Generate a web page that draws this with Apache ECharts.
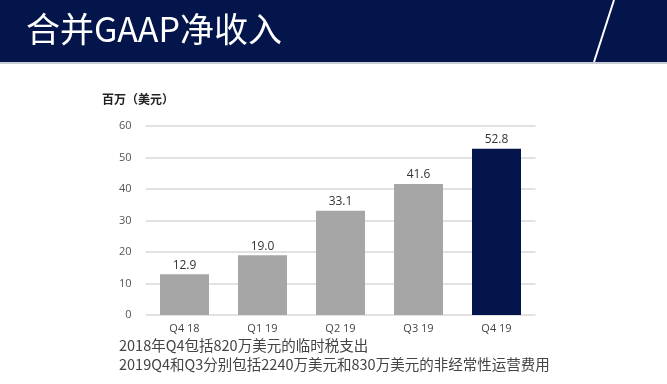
<!DOCTYPE html>
<html><head><meta charset="utf-8">
<script src="https://cdn.jsdelivr.net/npm/echarts@6/dist/echarts.min.js"></script>
<style>html,body{margin:0;padding:0;background:#fff;}#c{width:667px;height:384px;}</style>
</head><body><div id="c"></div>
<script>
const categories = ['Q4 18', 'Q1 19', 'Q2 19', 'Q3 19', 'Q4 19'];
const netIncome = [12.9, 19.0, 33.1, 41.6, 52.8];
const yTicks = [0, 10, 20, 30, 40, 50, 60];
const title = '合并GAAP净收入';
const unitLabel = '百万（美元）';
const notes = ['2018年Q4包括820万美元的临时税支出', '2019Q4和Q3分别包括2240万美元和830万美元的非经常性运营费用'];

const navy = '#03154a';
const chart = echarts.init(document.getElementById('c'));
chart.setOption({
  animation: false,
  graphic: [
    {type:'rect', left:0, top:0, shape:{width:667, height:62}, style:{fill:navy}},
    {type:'rect', left:0, top:62, shape:{width:667, height:2}, style:{fill:'#c8ccd6'}},
    {type:'line', shape:{x1:614, y1:0, x2:594, y2:62}, style:{stroke:'#fff', lineWidth:2}},
    {type:'text', left:26, top:12, style:{text:title, fill:'#fff', font:'34px "Noto Sans CJK SC", sans-serif'}},
    {type:'text', left:102, top:93, style:{text:unitLabel, fill:'#222', font:'bold 12px "Noto Sans CJK SC", sans-serif'}},
    {type:'text', left:119, top:338, style:{text:notes[0], fill:'#444', font:'14.5px "Noto Sans CJK SC", sans-serif'}},
    {type:'text', left:119, top:357, style:{text:notes[1], fill:'#444', font:'14.5px "Noto Sans CJK SC", sans-serif'}}
  ],
  grid: {left:145.5, right:131.5, top:126, bottom:69},
  xAxis: {
    type:'category', data:categories,
    axisLine:{show:false}, axisTick:{show:false},
    axisLabel:{color:'#444', fontSize:11, margin:8, fontFamily:'"Open Sans", sans-serif'}
  },
  yAxis: {
    type:'value', min:0, max:60, interval:10,
    axisLine:{show:false}, axisTick:{show:false},
    axisLabel:{color:'#555', fontSize:11, margin:14, fontFamily:'"Open Sans", sans-serif',
      formatter: v => yTicks.includes(v) ? String(v) : ''},
    splitLine:{lineStyle:{color:'#d9d9d9', width:1.5}}
  },
  series: [{
    type:'bar', barWidth:49,
    data: netIncome.map((v,i)=>({value:v, itemStyle:{color: i===netIncome.length-1 ? navy : '#a6a6a6'}})),
    label:{show:true, position:'top', distance:3, color:'#333', fontSize:12, fontFamily:'"Open Sans", sans-serif',
      formatter: p => p.value.toFixed(1)}
  }]
});
</script></body></html>
